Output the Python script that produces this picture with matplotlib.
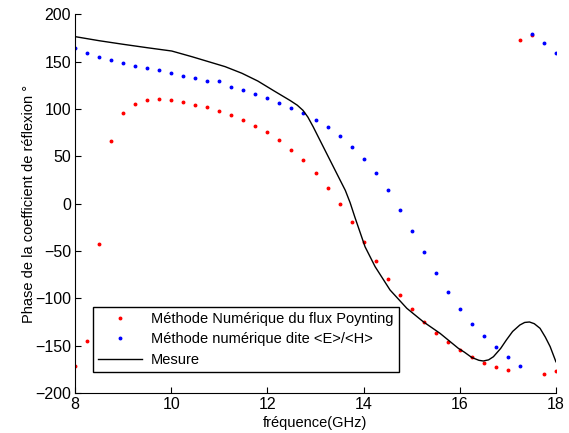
import numpy as np
import matplotlib
matplotlib.use("Agg")
import matplotlib.pyplot as plt

plt.rcParams['font.family'] = ['Liberation Sans', 'DejaVu Sans']

freq = [8.0 + 0.25 * i for i in range(41)]

poynting = [-172, -145, -43, 66, 96, 105.6, 109.2, 110.2, 109.2, 107.4,
            103.9, 102.1, 98.2, 93.6, 88.3, 82, 75.4, 66.9, 57, 46.1,
            32.4, 17, -0.4, -19.7, -40.2, -60.3, -79.3, -96.5, -111.6, -125,
            -136.3, -146.1, -154.3, -161.7, -168, -172.2, -175.7, 172.5, 178.5, -180.3,
            -176.8]

eh = [164, 158.8, 154.9, 151.4, 148.6, 145.7, 143.3, 140.8, 138, 135.1,
      132.4, 129.5, 129.5, 123.2, 119.7, 115.5, 111.6, 106.6, 101.3, 95.4,
      88.7, 80.6, 71.1, 60.1, 47.2, 32.0, 14.1, -6.4, -28.9, -51.1,
      -73.3, -93.7, -111, -126.8, -139.8, -151.8, -162, -171.5, 179.5, 169.7,
      158.8]

mes_f = [8.0, 8.5, 9.0, 9.5, 10.01, 10.43, 11.12, 11.47, 11.8, 12.14, 12.47, 12.62,
         12.74, 12.84, 12.95, 13.09, 13.3, 13.51, 13.62, 13.72, 13.82, 14.03, 14.24, 14.55,
         14.9, 15.24, 15.59, 15.97, 16.1, 16.25, 16.4, 16.49, 16.6, 16.7, 16.85,
         16.97, 17.1, 17.25, 17.35, 17.45, 17.55, 17.67, 17.78, 17.88, 18.0]
mes_v = [176.4, 172.1, 168.3, 164.7, 161.2, 155.2, 144.7, 137.7, 129.5, 119, 109, 104,
         98.5, 91.5, 81.3, 67.2, 46.1, 25, 14, 1, -14.5, -45.5, -66.6, -91.2,
         -110.6, -124.7, -137, -152.8, -157, -162.5, -165.5, -166.2, -165, -161.7, -153,
         -144, -135, -128.2, -125.5, -125, -126.8, -131.7, -141, -151, -167]

fig = plt.figure(figsize=(5.69, 4.33), dpi=100)
ax = fig.add_axes([0.132, 0.0924, 0.845, 0.8746])

ax.plot(freq, poynting, linestyle='none', marker='.', color='red', markersize=3.6,
        label='Méthode Numérique du flux Poynting')
ax.plot(freq, eh, linestyle='none', marker='.', color='blue', markersize=3.6,
        label='Méthode numérique dite <E>/<H>')
ax.plot(mes_f, mes_v, color='black', linewidth=1.0, label='Mesure')

ax.set_xlim(8, 18)
ax.set_ylim(-200, 200)
ax.set_xticks([8, 10, 12, 14, 16, 18])
ax.set_yticks(np.arange(-200, 201, 50))
ax.spines['top'].set_visible(False)
ax.spines['right'].set_visible(False)
ax.tick_params(direction='in', labelsize=11.5, length=4, pad=3)
ax.set_xlabel('fréquence(GHz)', fontsize=10.5, labelpad=3)
ax.set_ylabel('Phase de la coefficient de réflexion °', fontsize=10.5, labelpad=-1)

leg = ax.legend(loc='lower left', bbox_to_anchor=(0.037, 0.055), fontsize=10.5,
                fancybox=False, framealpha=1, edgecolor='black',
                borderaxespad=0, handlelength=3.0, handletextpad=0.6,
                labelspacing=0.44, borderpad=0.37, markerscale=1.0)
leg.get_frame().set_linewidth(1.0)

fig.savefig('out.png', dpi=100)
